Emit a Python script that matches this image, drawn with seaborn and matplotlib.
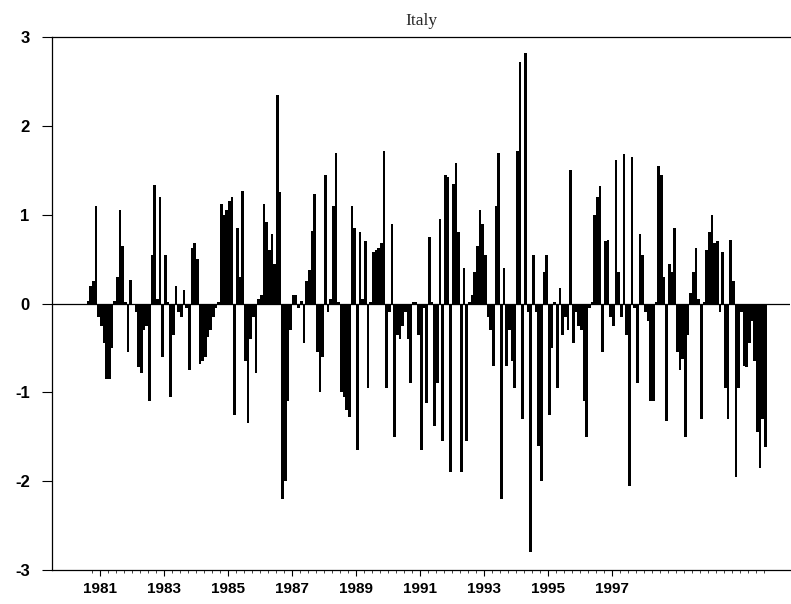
import numpy as np
import matplotlib
matplotlib.use("Agg")
import matplotlib.pyplot as plt
import seaborn as sns

# ---- data (monthly values) ----
start_year = 1980.625
values = [
    0.03, 0.2, 0.25, 1.1, -0.15, -0.25, -0.45, -0.85, -0.85, -0.5,
    0.03, 0.3, 1.05, 0.65, 0.02, -0.55, 0.27, 0.0, -0.1, -0.72,
    -0.78, -0.3, -0.25, -1.1, 0.55, 1.33, 0.05, 1.2, -0.6, 0.55,
    0.02, -1.05, -0.35, 0.2, -0.1, -0.15, 0.15, -0.05, -0.75, 0.62,
    0.68, 0.5, -0.68, -0.65, -0.6, -0.38, -0.3, -0.15, -0.05, 0.02,
    1.12, 1.0, 1.05, 1.15, 1.2, -1.25, 0.85, 0.3, 1.27, -0.65,
    -1.35, -0.4, -0.15, -0.78, 0.05, 0.1, 1.12, 0.92, 0.6, 0.78,
    0.45, 2.35, 1.25, -2.2, -2.0, -1.1, -0.3, 0.1, 0.1, -0.05,
    0.03, -0.45, 0.25, 0.38, 0.82, 1.23, -0.55, -1.0, -0.6, 1.45,
    -0.1, 0.05, 1.1, 1.7, 0.02, -1.0, -1.05, -1.2, -1.28, 1.1,
    0.85, -1.65, 0.8, 0.05, 0.7, -0.95, 0.02, 0.58, 0.6, 0.62,
    0.68, 1.72, -0.95, -0.1, 0.9, -1.5, -0.35, -0.4, -0.25, -0.1,
    -0.4, -0.9, 0.02, 0.02, -0.35, -1.65, -0.05, -1.12, 0.75, 0.02,
    -1.38, -0.9, 0.95, -1.55, 1.45, 1.42, -1.9, 1.35, 1.58, 0.8,
    -1.9, 0.4, -1.55, 0.02, 0.1, 0.35, 0.65, 1.05, 0.9, 0.55,
    -0.15, -0.3, -0.7, 1.1, 1.7, -2.2, 0.4, -0.7, -0.3, -0.65,
    -0.95, 1.72, 2.72, -1.3, 2.82, -0.1, -2.8, 0.55, -0.1, -1.6,
    -2.0, 0.35, 0.55, -1.25, -0.5, 0.02, -0.95, 0.18, -0.35, -0.15,
    -0.3, 1.5, -0.45, -0.1, -0.25, -0.3, -1.1, -1.5, -0.05, 0.02,
    1.0, 1.2, 1.32, -0.55, 0.7, 0.72, -0.15, -0.25, 1.62, 0.35,
    -0.15, 1.68, -0.35, -2.05, 1.65, -0.05, -0.9, 0.78, 0.55, -0.1,
    -0.2, -1.1, -1.1, 0.02, 1.55, 1.45, 0.3, -1.32, 0.45, 0.35,
    0.85, -0.55, -0.75, -0.62, -1.5, -0.35, 0.12, 0.35, 0.62, 0.05,
    -1.3, 0.02, 0.6, 0.8, 1.0, 0.68, 0.7, -0.1, 0.58, -0.95,
    -1.3, 0.72, 0.25, -1.95, -0.95, -0.1, -0.7, -0.72, -0.45, -0.2,
    -0.65, -1.45, -1.85, -1.3, -1.62,
]
year_labels = ["1981", "1983", "1985", "1987", "1989", "1991", "1993", "1995", "1997"]
y_ticks = [-3, -2, -1, 0, 1, 2, 3]
title = "Italy"

times = start_year + np.arange(len(values)) / 12.0

sns.set_style("ticks")
plt.rcParams["font.family"] = ["Liberation Sans", "DejaVu Sans"]

fig = plt.figure(figsize=(7.91, 6.04), dpi=100)
ax = fig.add_axes([0.0657, 0.0563, 0.933, 0.8824])

sns.barplot(x=times, y=values, native_scale=True, color="black",
            saturation=1, width=1.0, errorbar=None, linewidth=0, ax=ax)

ax.axhline(0, color="black", lw=0.9, zorder=0)
ax.set_xlim(1979.5, 2002.56)
ax.set_ylim(-3, 3)

ax.set_yticks(y_ticks)
ax.set_yticklabels([str(v) for v in y_ticks], fontweight="bold", fontsize=12)
label_years = [int(s) for s in year_labels]
ax.set_xticks(label_years)
ax.set_xticklabels(year_labels, fontweight="bold", fontsize=11)
ax.set_xticks(np.arange(1980.75, 2002.0, 0.25), minor=True)

ax.tick_params(axis="y", direction="out", length=7, width=0.8, pad=9, colors="black")
ax.tick_params(axis="x", which="major", direction="out", length=4, width=0.8, pad=5, colors="black")
ax.tick_params(axis="x", which="minor", direction="out", length=2.5, width=0.6)
ax.set_xlabel("")
ax.set_ylabel("")

for side in ["left", "bottom", "top"]:
    ax.spines[side].set_color("black")
    ax.spines[side].set_linewidth(0.9)
ax.spines["right"].set_visible(False)

ax.set_title(title, family=["Liberation Serif", "DejaVu Serif"], fontsize=12.5, pad=9)

fig.savefig("out.png", dpi=100)
